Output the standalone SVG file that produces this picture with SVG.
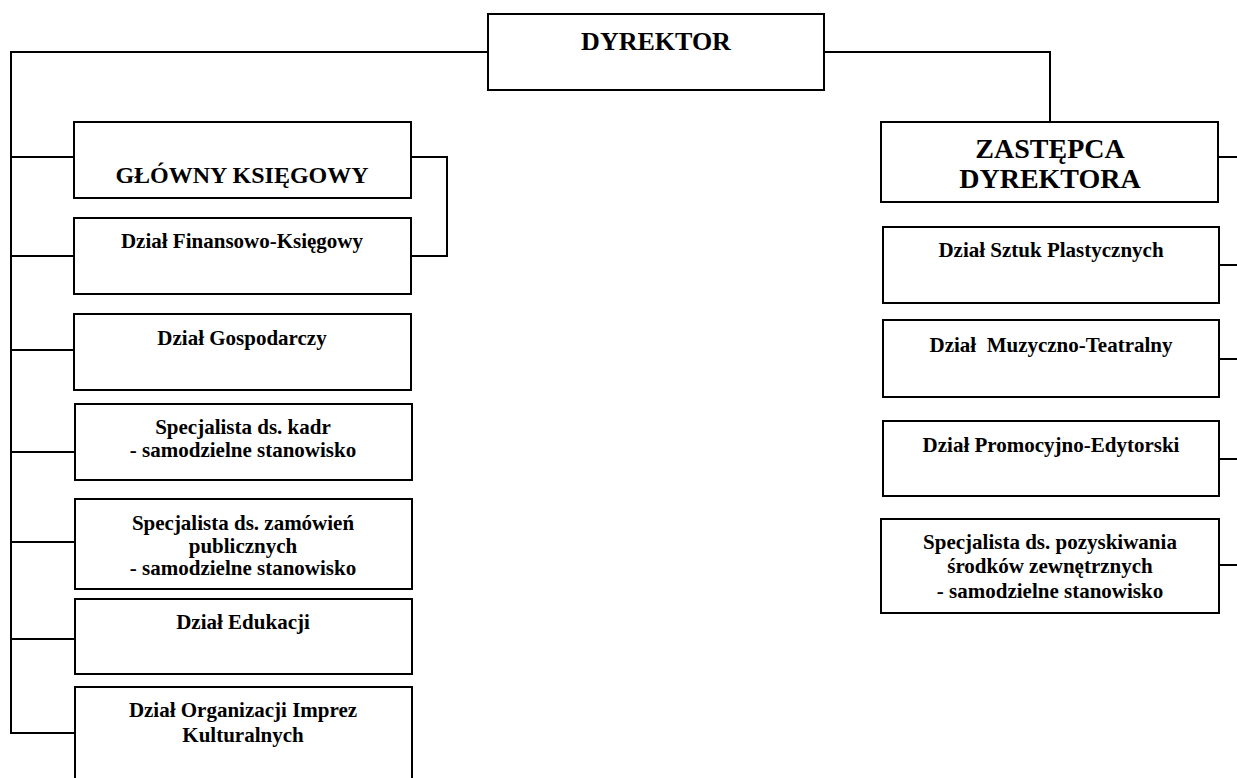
<svg xmlns="http://www.w3.org/2000/svg" width="1237" height="778" viewBox="0 0 1237 778">
<style>
.box{fill:#fff;stroke:#000;stroke-width:2}
.ln{fill:none;stroke:#000;stroke-width:2}
text{font-family:"Liberation Serif","Times New Roman",serif;font-weight:bold;fill:#000;text-anchor:middle}
.b{font-size:21px}
.h{font-size:24px}
</style>
<rect width="1237" height="778" fill="#fff"/>
<g id="connectors">
<path class="ln" d="M488 52H11V733H75"/>
<path class="ln" d="M11 157H74M11 256H74M11 350H74M11 452H75M11 542H75M11 639H75"/>
<path class="ln" d="M411 157H447V256H411"/>
<path class="ln" d="M824 52H1050V122"/>
<path class="ln" d="M1218 157H1237M1219 265H1237M1219 359H1237M1219 459H1237M1219 565H1237"/>
</g>
<g id="dyrektor"><rect class="box" x="488" y="14" width="336" height="76"/><text x="656" y="50" style="font-size:26px">DYREKTOR</text></g>
<g id="glowny"><rect class="box" x="74" y="122" width="337" height="76"/><text class="h" x="242" y="183">GŁÓWNY KSIĘGOWY</text></g>
<g id="finansowy"><rect class="box" x="74" y="218" width="337" height="76"/><text class="b" x="242" y="248">Dział Finansowo-Księgowy</text></g>
<g id="gospodarczy"><rect class="box" x="74" y="314" width="337" height="76"/><text class="b" x="242" y="345">Dział Gospodarczy</text></g>
<g id="kadry"><rect class="box" x="75" y="404" width="337" height="76"/><text class="b" x="243" y="434">Specjalista ds. kadr</text><text class="b" x="243" y="457">- samodzielne stanowisko</text></g>
<g id="zamowienia"><rect class="box" x="75" y="499" width="337" height="90"/><text class="b" x="243" y="530">Specjalista ds. zamówień</text><text class="b" x="243" y="553">publicznych</text><text class="b" x="243" y="575">- samodzielne stanowisko</text></g>
<g id="edukacja"><rect class="box" x="75" y="599" width="337" height="75"/><text class="b" x="243" y="629">Dział Edukacji</text></g>
<g id="imprezy"><rect class="box" x="75" y="687" width="337" height="100"/><text class="b" x="243" y="717">Dział Organizacji Imprez</text><text class="b" x="243" y="742">Kulturalnych</text></g>
<g id="zastepca"><rect class="box" x="881" y="122" width="337" height="80"/><text x="1050" y="158" style="font-size:28px">ZASTĘPCA</text><text x="1050" y="188" style="font-size:28px">DYREKTORA</text></g>
<g id="plastyka"><rect class="box" x="883" y="227" width="336" height="76"/><text class="b" x="1051" y="257">Dział Sztuk Plastycznych</text></g>
<g id="muzyka"><rect class="box" x="883" y="320" width="336" height="77"/><text class="b" x="1051" y="352" xml:space="preserve">Dział  Muzyczno-Teatralny</text></g>
<g id="promocja"><rect class="box" x="883" y="421" width="336" height="75"/><text class="b" x="1051" y="452">Dział Promocyjno-Edytorski</text></g>
<g id="pozyskiwanie"><rect class="box" x="881" y="519" width="338" height="94"/><text class="b" x="1050" y="549">Specjalista ds. pozyskiwania</text><text class="b" x="1050" y="573">środków zewnętrznych</text><text class="b" x="1050" y="598">- samodzielne stanowisko</text></g>
</svg>
